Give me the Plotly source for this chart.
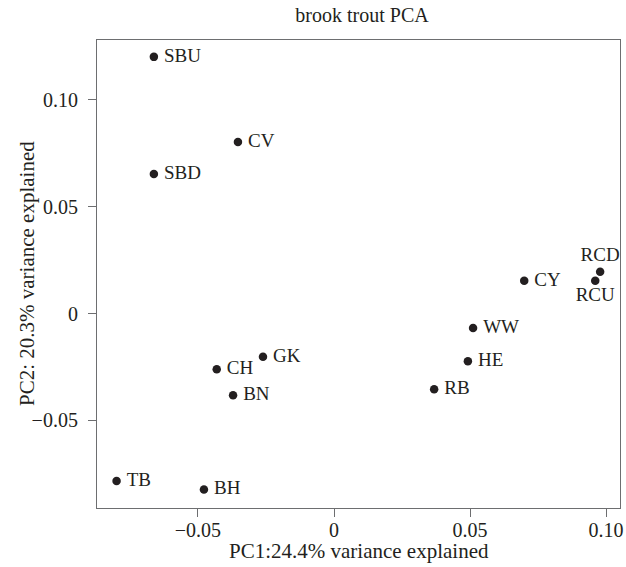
import plotly.graph_objects as go

sites = ["SBU", "CV", "SBD", "RCD", "RCU", "CY", "WW", "HE", "RB", "GK", "CH", "BN", "TB", "BH"]
pc1 = [-0.0662, -0.0353, -0.0662, 0.0978, 0.0960, 0.0699, 0.0511, 0.0492, 0.0368, -0.0261, -0.0431, -0.0371, -0.0799, -0.0478]
pc2 = [0.1202, 0.0803, 0.0653, 0.0195, 0.0153, 0.0153, -0.0068, -0.0224, -0.0355, -0.0203, -0.0261, -0.0383, -0.0785, -0.0824]
label_pos = ["middle right"] * 3 + ["top center", "bottom center"] + ["middle right"] * 9

x_ticks = [-0.05, 0, 0.05, 0.10]
x_ticktext = ["\u22120.05", "0", "0.05", "0.10"]
y_ticks = [-0.05, 0, 0.05, 0.10]
y_ticktext = ["\u22120.05", "0", "0.05", "0.10"]

FONT = "Liberation Serif, Times New Roman, serif"
INK = "#231f20"
FRAME = "#6d6e70"

labels = [("\u2009" + s if p == "middle right" else s) for s, p in zip(sites, label_pos)]

fig = go.Figure(go.Scatter(
    x=pc1, y=pc2, text=labels, mode="markers+text",
    textposition=label_pos,
    marker=dict(color=INK, size=8.5),
    textfont=dict(family=FONT, size=19, color=INK),
    cliponaxis=False,
    hoverinfo="skip",
))

axis_common = dict(
    showgrid=False, zeroline=False, showline=True, mirror=True,
    linecolor=FRAME, linewidth=1.2, automargin=False,
    ticks="outside", ticklen=8, tickcolor=FRAME, tickwidth=1.2,
    tickfont=dict(family=FONT, size=20, color=INK),
)

fig.update_layout(
    width=626, height=567,
    margin=dict(l=97, r=6, t=40, b=59),
    paper_bgcolor="white", plot_bgcolor="white",
    showlegend=False,
    title=dict(text="brook trout PCA", x=362 / 626, xanchor="center", y=1 - 15 / 567, yanchor="middle",
               font=dict(family=FONT, size=20, color=INK)),
    xaxis=dict(range=[-0.0871, 0.1051], tickvals=x_ticks, ticktext=x_ticktext,
               ticklabelstandoff=-4, **axis_common),
    yaxis=dict(range=[-0.0911, 0.1281], tickvals=y_ticks, ticktext=y_ticktext,
               ticklabelstandoff=6, **axis_common),
    annotations=[
        dict(text="PC1:24.4% variance explained", xref="paper", yref="paper",
             x=0.5, y=0, xanchor="center", yanchor="middle", yshift=-43, showarrow=False,
             font=dict(family=FONT, size=21, color=INK)),
        dict(text="PC2: 20.3% variance explained", xref="paper", yref="paper",
             x=0, y=0.5, xanchor="center", yanchor="middle", xshift=-70, textangle=-90,
             showarrow=False, font=dict(family=FONT, size=21, color=INK)),
    ],
)

fig.write_html("out.html", config={"displayModeBar": False},
               post_script="document.body.style.margin='0';")
